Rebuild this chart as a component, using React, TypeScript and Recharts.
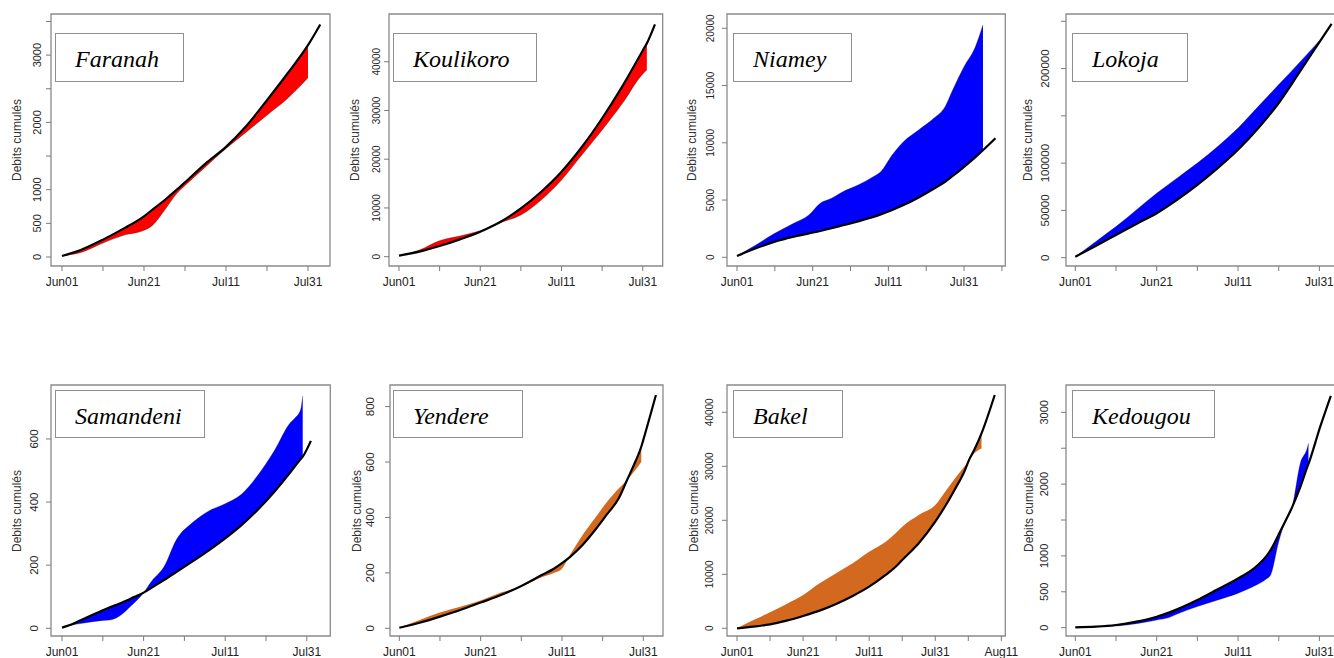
import React from 'react';
import { ComposedChart, Area, Line, XAxis, YAxis, ReferenceArea } from 'recharts';

// ---- shared tick definitions (days since Jun01) ----
const DATE_TICKS = [0, 10, 20, 30, 40, 50, 60, 70, 80];
const DATE_LABELS = ['Jun01', '', 'Jun21', '', 'Jul11', '', 'Jul31', '', 'Aug11'];

// ---- Faranah ----
const FARANAH_DAYS = [0, 5, 10, 15, 20, 22, 25, 28, 30, 35, 40, 45, 50, 55, 60, 63];
const FARANAH_REF = [15, 115, 258, 421, 605, 700, 843, 1000, 1110, 1388, 1636, 1950, 2330, 2727, 3148, 3456];
const FARANAH_OBS = [15, 74, 208, 322, 397, 466, 694, 942, 1061, 1339, 1611, 1859, 2107, 2355, 2662];
const FARANAH_YTICKS = [0, 500, 1000, 1500, 2000, 2500, 3000, 3500];
const FARANAH_YLABELS = [0, 500, 1000, 2000, 3000];

// ---- Koulikoro ----
const KOULIKORO_DAYS = [0, 5, 10, 15, 20, 23, 25, 30, 35, 40, 45, 50, 55, 60, 61, 63];
const KOULIKORO_REF = [205, 1026, 2188, 3556, 5128, 6300, 7179, 9915, 13333, 17436, 22500, 28400, 35000, 42300, 43760, 47650];
const KOULIKORO_OBS = [205, 1368, 3282, 4239, 5333, 6200, 6974, 8547, 11624, 15726, 20855, 25983, 31453, 37500, 38290];
const KOULIKORO_YTICKS = [0, 10000, 20000, 30000, 40000];

// ---- Niamey ----
const NIAMEY_DAYS = [0, 5, 10, 15, 19, 22, 25, 28, 32, 36, 38, 41, 44, 48, 52, 55, 57, 60, 63, 65, 68.3];
const NIAMEY_REF = [116, 786, 1368, 1805, 2090, 2300, 2533, 2795, 3140, 3520, 3750, 4130, 4560, 5230, 5990, 6600, 7100, 7900, 8750, 9350, 10400];
const NIAMEY_OBS = [116, 1077, 2096, 2969, 3697, 4716, 5153, 5735, 6317, 7045, 7482, 8937, 10102, 11121, 12140, 13159, 14614, 16652, 18399, 20291];
const NIAMEY_YTICKS = [0, 5000, 10000, 15000, 20000];

// ---- Lokoja ----
const LOKOJA_DAYS = [0, 5, 10, 15, 20, 25, 30, 35, 40, 45, 50, 55, 60, 63];
const LOKOJA_REF = [1060, 12367, 24028, 35689, 46996, 61131, 77032, 94700, 114134, 137102, 163604, 195406, 228000, 247350];
const LOKOJA_OBS = [1060, 16961, 32862, 50530, 68198, 84099, 100000, 117668, 137102, 160071, 183039, 206007, 229500];
const LOKOJA_YTICKS = [0, 50000, 100000, 150000, 200000, 250000];
const LOKOJA_YLABELS = [0, 50000, 100000, 200000];

// ---- Samandeni ----
const SAMANDENI_DAYS = [0, 3, 5, 10, 12, 14, 17, 20, 22, 25, 28, 32, 36, 40, 44, 48, 52, 56, 57, 58.5, 59, 61];
const SAMANDENI_REF = [2, 16, 28, 57, 68, 78, 95, 113, 129, 153, 178, 212, 247, 285, 327, 376, 432, 495, 512, 536, 544, 594];
const SAMANDENI_OBS = [2, 12, 16, 25, 27, 38, 72, 113, 150, 195, 280, 335, 372, 395, 425, 485, 562, 652, 665, 693, 736];
const SAMANDENI_YTICKS = [0, 200, 400, 600];

// ---- Yendere ----
const YENDERE_DAYS = [0, 5, 10, 15, 20, 25, 30, 35, 38, 40, 42, 45, 48, 51, 54, 56, 58, 59.5, 60, 63.1];
const YENDERE_REF = [2, 20, 42, 66, 93, 120, 153, 192, 215, 235, 258, 300, 352, 410, 470, 535, 600, 655, 680, 842];
const YENDERE_OBS = [2, 30, 57, 78, 100, 129, 150, 184, 200, 215, 265, 335, 395, 455, 505, 535, 570, 600];
const YENDERE_YTICKS = [0, 200, 400, 600, 800];

// ---- Bakel ----
const BAKEL_DAYS = [0, 5, 10, 15, 20, 25, 30, 35, 40, 45, 48, 50, 55, 60, 63, 66, 69, 70.1, 72, 74, 78];
const BAKEL_REF = [0, 309, 741, 1420, 2284, 3272, 4506, 5988, 7716, 9877, 11400, 12654, 15741, 19753, 22600, 25800, 29300, 31000, 33300, 36100, 43210];
const BAKEL_OBS = [0, 1543, 2963, 4506, 6173, 8333, 10185, 12037, 14198, 16049, 17593, 18827, 20988, 22840, 25309, 27800, 30100, 31000, 32500, 33300];
const BAKEL_YTICKS = [0, 10000, 20000, 30000, 40000];

// ---- Kedougou ----
const KEDOUGOU_DAYS = [0, 5, 10, 15, 20, 23, 25, 30, 35, 40, 44, 47, 48, 50, 51.5, 53.3, 55.3, 57.1, 57.3, 60.2, 62.8];
const KEDOUGOU_REF = [5, 14, 37, 84, 153, 210, 255, 385, 534, 685, 830, 1000, 1082, 1300, 1470, 1680, 1960, 2250, 2280, 2800, 3230];
const KEDOUGOU_OBS = [5, 10, 23, 56, 107, 140, 190, 295, 385, 480, 580, 680, 734, 1200, 1470, 1680, 2290, 2520, 2568];
const KEDOUGOU_YTICKS = [0, 500, 1000, 1500, 2000, 2500, 3000];
const KEDOUGOU_YLABELS = [0, 500, 1000, 2000, 3000];

const RED = '#FF0000';
const BLUE = '#0000FF';
const ORANGE = '#D2691E';

const SANS = '"Liberation Sans", Arial, Helvetica, sans-serif';
const SERIF = '"Liberation Serif", "Times New Roman", Times, serif';

type Station = {
  name: string;
  days: number[];
  ref: number[];
  obs: number[];
  color: string;
  edge: boolean;
  xTicks: number[];
  yTicks: number[];
  yLabels: number[];
  xDomain: [number, number];
  yDomain: [number, number];
  box: { L: number; T: number; R: number; B: number };
  tickFont: number;
  tickOff: number;
  titleOff: number;
  nameBox: { x: number; y: number; w: number; h: number };
};

const STATIONS: Station[] = [
  {
    name: 'Faranah', days: FARANAH_DAYS, ref: FARANAH_REF, obs: FARANAH_OBS, color: RED, edge: true,
    xTicks: DATE_TICKS.slice(0, 7), yTicks: FARANAH_YTICKS, yLabels: FARANAH_YLABELS,
    xDomain: [-2.68, 65.37], yDomain: [-134, 3611],
    box: { L: 51, T: 14, R: 330, B: 266 }, tickFont: 11, tickOff: 14, titleOff: 34,
    nameBox: { x: 55, y: 33, w: 129, h: 49 },
  },
  {
    name: 'Koulikoro', days: KOULIKORO_DAYS, ref: KOULIKORO_REF, obs: KOULIKORO_OBS, color: RED, edge: true,
    xTicks: DATE_TICKS.slice(0, 7), yTicks: KOULIKORO_YTICKS, yLabels: KOULIKORO_YTICKS,
    xDomain: [-2.46, 64.9], yDomain: [-1908, 49785],
    box: { L: 389.3, T: 14, R: 663, B: 266 }, tickFont: 10, tickOff: 13, titleOff: 34,
    nameBox: { x: 393, y: 33, w: 144, h: 49 },
  },
  {
    name: 'Niamey', days: NIAMEY_DAYS, ref: NIAMEY_REF, obs: NIAMEY_OBS, color: BLUE, edge: true,
    xTicks: DATE_TICKS.slice(0, 8), yTicks: NIAMEY_YTICKS, yLabels: NIAMEY_YTICKS,
    xDomain: [-2.64, 70.9], yDomain: [-760, 21249],
    box: { L: 726.7, T: 14, R: 1005, B: 266 }, tickFont: 10, tickOff: 17, titleOff: 35,
    nameBox: { x: 733, y: 33, w: 119, h: 49 },
  },
  {
    name: 'Lokoja', days: LOKOJA_DAYS, ref: LOKOJA_REF, obs: LOKOJA_OBS, color: BLUE, edge: true,
    xTicks: DATE_TICKS.slice(0, 7), yTicks: LOKOJA_YTICKS, yLabels: LOKOJA_YLABELS,
    xDomain: [-2.29, 65.5], yDomain: [-8800, 257700],
    box: { L: 1065.7, T: 14, R: 1341.5, B: 266 }, tickFont: 11.5, tickOff: 21, titleOff: 38,
    nameBox: { x: 1072, y: 33, w: 116, h: 49 },
  },
  {
    name: 'Samandeni', days: SAMANDENI_DAYS, ref: SAMANDENI_REF, obs: SAMANDENI_OBS, color: BLUE, edge: true,
    xTicks: DATE_TICKS.slice(0, 7), yTicks: SAMANDENI_YTICKS, yLabels: SAMANDENI_YTICKS,
    xDomain: [-2.7, 65.76], yDomain: [-24.4, 771],
    box: { L: 50.7, T: 385, R: 330, B: 636 }, tickFont: 11.5, tickOff: 17, titleOff: 34,
    nameBox: { x: 55, y: 390, w: 150, h: 48 },
  },
  {
    name: 'Yendere', days: YENDERE_DAYS, ref: YENDERE_REF, obs: YENDERE_OBS, color: ORANGE, edge: false,
    xTicks: DATE_TICKS.slice(0, 7), yTicks: YENDERE_YTICKS, yLabels: YENDERE_YTICKS,
    xDomain: [-2.29, 64.84], yDomain: [-27.8, 878],
    box: { L: 390, T: 385, R: 663, B: 636 }, tickFont: 11.5, tickOff: 20, titleOff: 33,
    nameBox: { x: 393, y: 390, w: 130, h: 48 },
  },
  {
    name: 'Bakel', days: BAKEL_DAYS, ref: BAKEL_REF, obs: BAKEL_OBS, color: ORANGE, edge: false,
    xTicks: DATE_TICKS, yTicks: BAKEL_YTICKS, yLabels: BAKEL_YTICKS,
    xDomain: [-3.03, 81.2], yDomain: [-1426, 45056],
    box: { L: 726.7, T: 385, R: 1005, B: 636 }, tickFont: 10, tickOff: 18, titleOff: 33,
    nameBox: { x: 733, y: 390, w: 110, h: 48 },
  },
  {
    name: 'Kedougou', days: KEDOUGOU_DAYS, ref: KEDOUGOU_REF, obs: KEDOUGOU_OBS, color: BLUE, edge: true,
    xTicks: DATE_TICKS.slice(0, 7), yTicks: KEDOUGOU_YTICKS, yLabels: KEDOUGOU_YLABELS,
    xDomain: [-2.29, 65.5], yDomain: [-116, 3381],
    box: { L: 1065.7, T: 385, R: 1341.5, B: 636 }, tickFont: 11, tickOff: 22, titleOff: 37,
    nameBox: { x: 1072, y: 390, w: 143, h: 48 },
  },
];

const AXIS_W = 50;
const TOP_M = 5;
const RIGHT_M = 25;
const X_H = 30;

const XTick = (props: any) => {
  const { x, y, payload } = props;
  const idx = DATE_TICKS.indexOf(payload.value);
  const label = idx >= 0 ? DATE_LABELS[idx] : '';
  if (!label) return <g />;
  return (
    <text x={x} y={y} dy="0.71em" textAnchor="middle" fontSize={12} fontFamily={SANS} fill="#222">
      {label}
    </text>
  );
};

const makeYTick = (labels: number[], fontSize: number) => (props: any) => {
  const { x, y, payload } = props;
  if (!labels.includes(payload.value)) return <g />;
  return (
    <text
      x={x}
      y={y}
      transform={`rotate(-90 ${x} ${y})`}
      textAnchor="middle"
      fontSize={fontSize}
      fontFamily={SANS}
      fill="#262626"
    >
      {String(payload.value)}
    </text>
  );
};

function Panel({ s }: { s: Station }) {
  const { L, T, R, B } = s.box;
  const W = AXIS_W + (R - L) + RIGHT_M;
  const H = TOP_M + (B - T) + X_H;
  const rows = s.days.map((d, i) => ({ d, ref: s.ref[i] }));
  const fillRows = s.obs.map((o, i) => ({ d: s.days[i], range: [s.ref[i], o] }));
  const yTickMargin = s.tickOff - 5 - 0.36 * s.tickFont;
  return (
    <>
      <div style={{ position: 'absolute', left: L - AXIS_W, top: T - TOP_M }}>
        <ComposedChart width={W} height={H} data={rows} margin={{ top: TOP_M, right: RIGHT_M, bottom: 0, left: 0 }}>
          <XAxis
            dataKey="d"
            type="number"
            domain={s.xDomain}
            allowDataOverflow
            ticks={s.xTicks}
            interval={0}
            height={X_H}
            axisLine={false}
            tickLine={{ stroke: '#7a7a7a', strokeWidth: 1 }}
            tickSize={5}
            tickMargin={6}
            tick={XTick}
          />
          <YAxis
            type="number"
            domain={s.yDomain}
            allowDataOverflow
            ticks={s.yTicks}
            interval={0}
            width={AXIS_W}
            axisLine={false}
            tickLine={{ stroke: '#7a7a7a', strokeWidth: 1 }}
            tickSize={5}
            tickMargin={yTickMargin}
            tick={makeYTick(s.yLabels, s.tickFont)}
          />
          <Area
            data={fillRows}
            dataKey="range"
            type="monotone"
            stroke={s.edge ? '#000' : 'none'}
            strokeWidth={0.7}
            strokeOpacity={0.45}
            fill={s.color}
            fillOpacity={1}
            isAnimationActive={false}
          />
          <Line
            dataKey="ref"
            type="monotone"
            stroke="#000"
            strokeWidth={2.2}
            dot={false}
            isAnimationActive={false}
          />
          <ReferenceArea
            x1={s.xDomain[0]}
            x2={s.xDomain[1]}
            y1={s.yDomain[0]}
            y2={s.yDomain[1]}
            fill="none"
            stroke="#8a8a8a"
            strokeWidth={1.3}
            ifOverflow="visible"
          />
        </ComposedChart>
      </div>
      <div
        style={{
          position: 'absolute',
          left: L - s.titleOff,
          top: (T + B) / 2,
          transform: 'translate(-50%, -50%) rotate(-90deg)',
          whiteSpace: 'nowrap',
          fontFamily: SANS,
          fontSize: 12,
          color: '#333',
          lineHeight: '14px',
        }}
      >
        Debits cumulés
      </div>
      <div
        style={{
          position: 'absolute',
          left: s.nameBox.x,
          top: s.nameBox.y,
          width: s.nameBox.w,
          height: s.nameBox.h,
          boxSizing: 'border-box',
          border: '1.5px solid #8f8f8f',
          background: '#fff',
          paddingLeft: 19,
          fontFamily: SERIF,
          fontStyle: 'italic',
          fontSize: 24,
          lineHeight: '50px',
          color: '#000',
          whiteSpace: 'nowrap',
          overflow: 'visible',
        }}
      >
        {s.name}
      </div>
    </>
  );
}

export default function App() {
  return (
    <div
      style={{
        position: 'absolute',
        left: 0,
        top: 0,
        width: 1334,
        height: 658,
        overflow: 'hidden',
        background: '#fff',
      }}
    >
      {STATIONS.map((s) => (
        <Panel key={s.name} s={s} />
      ))}
    </div>
  );
}
